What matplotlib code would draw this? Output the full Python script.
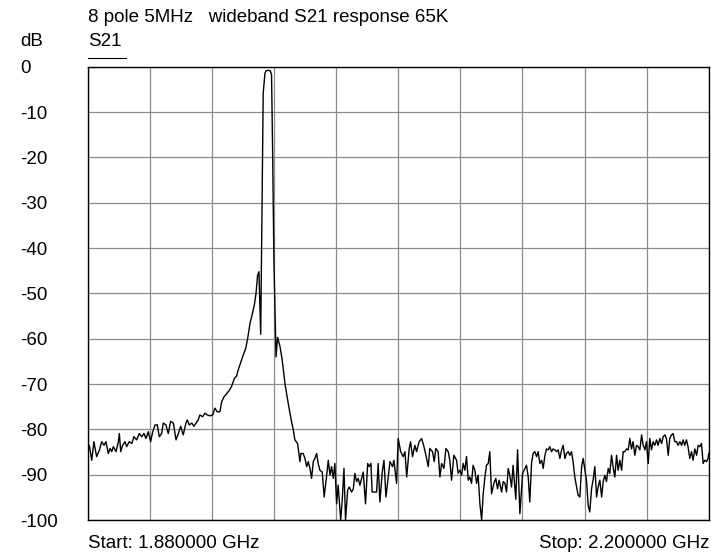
import matplotlib
matplotlib.use("Agg")
import matplotlib.pyplot as plt

plt.rcParams['font.family'] = ['Liberation Sans', 'DejaVu Sans']

# Swept S21 response of the 8-pole filter (frequency in MHz, transmission in dB)
freq_mhz = [
    1880.0, 1880.9, 1882.2, 1883.3, 1884.7, 1886.1, 1887.3, 1888.5, 1889.5, 1890.7,
    1891.6, 1892.5, 1893.3, 1894.7, 1895.9, 1896.4, 1897.1, 1898.1, 1899.3, 1900.2,
    1901.5, 1902.8, 1903.9, 1905.3, 1906.7, 1907.9, 1909.1, 1910.1, 1911.3, 1912.5,
    1913.6, 1914.8, 1915.9, 1917.0, 1918.2, 1919.0, 1920.4, 1921.6, 1922.8, 1924.2,
    1925.6, 1926.8, 1928.0, 1929.3, 1930.7, 1931.4, 1932.4, 1933.7, 1934.8, 1935.9,
    1937.0, 1937.9, 1939.3, 1940.5, 1941.7, 1943.1, 1944.5, 1945.6, 1946.8, 1948.2,
    1949.1, 1950.3, 1951.7, 1953.0, 1954.2, 1955.6, 1956.8, 1957.6, 1959.0, 1960.2,
    1961.5, 1962.5, 1963.7, 1964.9, 1965.9, 1966.8, 1967.6, 1968.3, 1969.2, 1970.5,
    1971.4, 1972.0, 1972.6, 1973.4, 1974.2, 1974.8, 1975.4, 1976.0, 1977.1, 1977.9,
    1979.1, 1980.3, 1981.7, 1983.4, 1985.1, 1986.0, 1986.8, 1988.2, 1988.9, 1989.4,
    1989.9, 1991.1, 1992.0, 1992.9, 1993.7, 1994.6, 1995.4, 1996.3, 1997.1, 1998.0,
    1998.8, 1999.7, 2000.9, 2001.9, 2003.2, 2004.0, 2004.9, 2005.7, 2006.6, 2007.4,
    2008.3, 2009.1, 2010.4, 2011.2, 2012.1, 2012.9, 2014.0, 2014.8, 2016.0, 2016.9,
    2017.7, 2018.6, 2019.4, 2020.3, 2021.2, 2022.0, 2023.2, 2024.3, 2025.1, 2026.0,
    2026.6, 2028.0, 2028.9, 2029.7, 2030.6, 2031.8, 2032.7, 2033.7, 2034.9, 2035.8,
    2037.1, 2037.8, 2039.2, 2040.0, 2041.3, 2042.6, 2043.5, 2044.4, 2045.7, 2046.4,
    2047.4, 2048.6, 2049.5, 2050.8, 2052.1, 2053.3, 2054.3, 2055.5, 2056.3, 2057.7,
    2058.6, 2059.4, 2060.6, 2061.5, 2062.4, 2063.6, 2064.6, 2065.8, 2066.6, 2067.5,
    2068.7, 2070.1, 2070.9, 2071.8, 2072.7, 2073.5, 2074.4, 2075.2, 2076.1, 2076.9,
    2077.8, 2078.6, 2079.5, 2080.4, 2081.2, 2082.1, 2083.0, 2083.8, 2084.7, 2085.5,
    2086.4, 2087.2, 2088.1, 2089.3, 2090.3, 2091.2, 2092.0, 2093.3, 2094.1, 2095.0,
    2095.8, 2096.7, 2097.5, 2098.4, 2099.2, 2100.6, 2101.5, 2102.7, 2104.1, 2104.9,
    2106.1, 2107.0, 2107.8, 2108.7, 2109.5, 2110.4, 2111.3, 2112.1, 2113.0, 2113.9,
    2114.7, 2115.6, 2116.4, 2117.3, 2118.1, 2119.0, 2119.8, 2120.7, 2121.6, 2122.4,
    2123.3, 2124.2, 2125.0, 2125.9, 2126.7, 2127.6, 2128.4, 2129.3, 2130.1, 2131.0,
    2131.9, 2132.7, 2133.6, 2134.5, 2135.3, 2136.2, 2137.0, 2137.9, 2138.7, 2139.6,
    2140.4, 2141.3, 2142.2, 2143.0, 2143.9, 2144.8, 2145.6, 2146.5, 2147.3, 2148.2,
    2149.0, 2149.9, 2150.7, 2151.6, 2152.5, 2153.3, 2154.2, 2155.1, 2155.9, 2156.8,
    2157.6, 2158.5, 2159.3, 2160.2, 2161.0, 2161.9, 2162.8, 2163.6, 2164.5, 2165.4,
    2166.2, 2167.1, 2167.9, 2168.8, 2169.6, 2170.5, 2171.3, 2172.2, 2173.1, 2173.9,
    2174.8, 2175.7, 2176.5, 2177.4, 2178.2, 2179.1, 2179.9, 2180.8, 2181.6, 2182.5,
    2183.4, 2184.2, 2185.1, 2186.0, 2186.8, 2187.6, 2188.5, 2189.3, 2190.2, 2191.1,
    2191.9, 2192.8, 2193.7, 2194.5, 2195.4, 2196.2, 2197.1, 2197.9, 2198.8, 2199.6,
    2200.0,
]

s21_db = [
    -85.3, -83.5, -86.8, -82.7, -86.0, -84.6, -82.7, -83.5, -82.7, -85.3,
    -84.2, -84.9, -83.8, -84.9, -82.7, -80.9, -84.9, -83.5, -82.7, -83.8,
    -82.7, -83.1, -81.6, -82.3, -80.9, -81.6, -80.9, -82.0, -80.5, -82.7,
    -80.5, -79.0, -79.0, -81.6, -80.9, -78.6, -79.0, -80.9, -78.2, -78.6,
    -82.3, -80.9, -79.3, -81.2, -78.6, -77.9, -79.0, -78.6, -79.3, -78.6,
    -77.9, -76.8, -77.2, -76.4, -76.8, -77.0, -76.8, -75.3, -76.1, -76.1,
    -73.9, -72.8, -72.1, -71.4, -70.5, -68.8, -68.2, -66.9, -65.1, -63.6,
    -62.1, -59.9, -56.6, -54.5, -52.6, -50.0, -46.0, -45.2, -59.0, -5.8,
    -1.4, -0.9, -0.8, -0.8, -0.9, -1.8, -20.6, -42.5, -64.0, -59.7,
    -61.6, -64.7, -69.9, -74.3, -78.3, -80.1, -82.3, -83.1, -85.3, -87.1,
    -85.3, -85.3, -86.4, -88.2, -87.1, -88.6, -90.8, -87.1, -86.4, -85.3,
    -87.5, -89.0, -89.4, -94.9, -90.1, -86.8, -90.1, -88.2, -90.8, -87.5,
    -96.4, -92.3, -100.0, -95.6, -88.6, -100.0, -93.4, -92.7, -93.8, -93.1,
    -89.7, -91.5, -90.8, -92.3, -90.8, -89.4, -96.4, -87.5, -88.2, -87.5,
    -93.8, -93.8, -93.8, -87.5, -96.0, -89.4, -86.8, -94.9, -90.5, -87.1,
    -88.2, -86.8, -91.9, -82.0, -84.9, -86.0, -84.9, -90.5, -84.2, -82.7,
    -86.0, -83.5, -84.9, -82.7, -82.0, -83.8, -85.7, -88.2, -84.2, -84.9,
    -87.1, -84.2, -84.9, -90.5, -87.5, -88.6, -84.2, -84.9, -86.8, -91.2,
    -85.7, -86.8, -89.7, -89.0, -90.1, -87.5, -89.0, -86.0, -91.2, -90.5,
    -91.9, -87.9, -89.0, -91.9, -90.1, -96.4, -100.0, -94.2, -90.5, -87.9,
    -87.5, -84.9, -94.2, -91.9, -90.8, -93.1, -91.2, -93.8, -91.5, -91.9,
    -93.8, -88.6, -90.1, -92.7, -87.9, -95.4, -84.5, -98.6, -89.7, -89.0,
    -87.9, -90.5, -96.0, -87.5, -85.3, -84.9, -86.0, -84.9, -87.5, -86.8,
    -88.6, -85.7, -84.3, -84.5, -83.8, -84.9, -84.3, -84.5, -84.9, -84.5,
    -86.4, -84.5, -83.5, -86.4, -85.3, -84.9, -85.7, -84.9, -87.1, -90.5,
    -92.7, -94.5, -94.9, -88.2, -86.4, -89.0, -91.2, -96.8, -98.2, -93.1,
    -91.2, -88.2, -94.9, -92.7, -91.2, -94.9, -91.5, -90.1, -91.5, -88.6,
    -89.7, -85.7, -88.2, -90.5, -85.7, -89.0, -86.8, -89.0, -84.9, -84.9,
    -84.3, -84.5, -82.0, -84.3, -82.7, -85.7, -83.5, -83.8, -84.5, -81.2,
    -83.5, -84.5, -82.7, -87.5, -82.0, -84.5, -82.7, -83.5, -82.3, -83.5,
    -82.0, -83.1, -81.6, -81.2, -82.0, -85.7, -82.0, -81.2, -80.9, -82.7,
    -82.7, -83.5, -82.7, -83.5, -82.3, -83.5, -82.3, -83.8, -86.4, -84.9,
    -86.8, -84.3, -85.7, -83.5, -83.8, -83.1, -87.5, -86.8, -87.1, -86.4,
    -85.3,
]

y_ticks = [0, -10, -20, -30, -40, -50, -60, -70, -80, -90, -100]
y_tick_labels = ["0", "-10", "-20", "-30", "-40", "-50", "-60", "-70", "-80", "-90", "-100"]
f_start, f_stop = 1880.0, 2200.0
n_divisions = 10

title_text = "8 pole 5MHz   wideband S21 response 65K"
unit_text = "dB"
trace_text = "S21"
start_text = "Start: 1.880000 GHz"
stop_text = "Stop: 2.200000 GHz"

W, H = 711, 554
fig = plt.figure(figsize=(W / 100, H / 100), dpi=100)

left_px, right_px, top_px, bottom_px = 87.5, 708.8, 66.8, 520.1
ax = fig.add_axes([left_px / W, 1 - bottom_px / H,
                   (right_px - left_px) / W, (bottom_px - top_px) / H])

step = (f_stop - f_start) / n_divisions
ax.set_xlim(f_start, f_stop)
ax.set_ylim(-100, 0)
ax.set_xticks([f_start + i * step for i in range(n_divisions + 1)])
ax.set_yticks(y_ticks)
ax.grid(True, color="#8c8c8c", linewidth=0.9)
ax.set_axisbelow(True)
ax.tick_params(axis="x", length=0, labelbottom=False)

fs = 13.5
ax.set_yticklabels(y_tick_labels, ha="left", fontsize=fs)
ax.tick_params(axis="y", length=0, pad=(left_px - 20) * 0.72)
for sp in ax.spines.values():
    sp.set_color("black")
    sp.set_linewidth(1.0)

ax.plot(freq_mhz, s21_db, color="black", linewidth=1.0, solid_joinstyle="round")

fig.text(88 / W, 1 - 18 / H, title_text, fontsize=fs, ha="left", va="center")
fig.text(20 / W, 1 - 42 / H, unit_text, fontsize=fs, ha="left", va="center")
fig.text(88 / W, 1 - 42 / H, trace_text, fontsize=fs, ha="left", va="center")
fig.add_artist(plt.Line2D([88 / W, 126 / W], [1 - 57.5 / H, 1 - 57.5 / H],
                          color="black", linewidth=0.8))
fig.text(88 / W, 1 - 543 / H, start_text, fontsize=fs, ha="left", va="center")
fig.text(709 / W, 1 - 543 / H, stop_text, fontsize=fs, ha="right", va="center")

fig.savefig("out.png", dpi=100, facecolor="white")
